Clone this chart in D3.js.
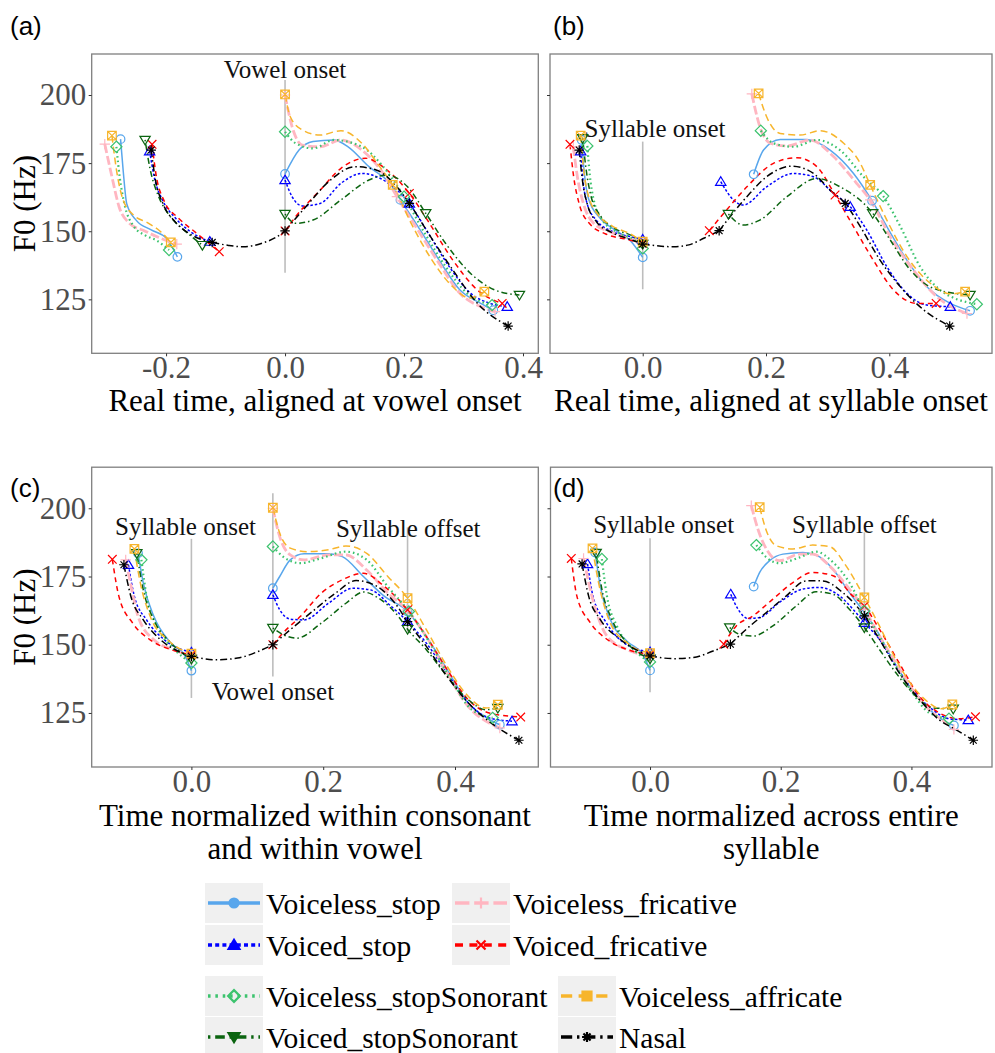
<!DOCTYPE html>
<html lang="en">
<head>
<meta charset="UTF-8">
<script src="https://d3js.org/d3.v7.min.js"></script>
<style>
  body { margin: 0; background: #fff; }
  svg { display: block; }
</style>
</head>
<body>
<script>
// categories in legend order
var categories = ["Voiceless_stop", "Voiced_stop", "Voiceless_fricative", "Voiced_fricative",
  "Voiceless_stopSonorant", "Voiced_stopSonorant", "Voiceless_affricate", "Nasal"];

var yTicks = [125, 150, 175, 200];
var xTicksA = [-0.2, 0.0, 0.2, 0.4];
var xTicksB = [0.0, 0.2, 0.4];

// F0 contours, one array per panel. pre = before syllable onset, cons = nasal consonant,
// vow = from vowel onset; a third value of 1 marks the syllable offset point
var curvesA = [
  { cat: "Voiceless_stop",
    pre: [[-0.2765,183.8],[-0.272,172],[-0.266,160],[-0.25,154],[-0.225,150.5],[-0.2,147.5],[-0.181,140.6]],
    vow: [[0,171],[0.0235,179.8],[0.047,182.9],[0.082,183.5],[0.106,181],[0.141,173.7],[0.176,167.6],[0.194,161.5,1],[0.2235,151.7],[0.259,139.4],[0.294,128.4],[0.329,123.5],[0.35,121]] },
  { cat: "Voiced_stop",
    pre: [[-0.2276,179.4],[-0.22,170],[-0.205,161],[-0.185,155],[-0.16,150],[-0.1265,146.2]],
    vow: [[0,168.8],[0.0118,162.7],[0.029,159.3],[0.059,160.2],[0.094,167.6],[0.129,171.2],[0.165,168.8],[0.209,160.2,1],[0.241,149.2],[0.276,137],[0.312,127.2],[0.345,123.5],[0.3735,122.3]] },
  { cat: "Voiceless_fricative",
    pre: [[-0.303,182],[-0.291,170],[-0.279,159],[-0.262,153],[-0.235,150],[-0.21,147.5],[-0.182,145.3]],
    vow: [[0,200],[0.0118,188.4],[0.029,181.6],[0.059,181],[0.094,183.5],[0.129,179.8],[0.165,171.2],[0.188,162.7,1],[0.2235,150.4],[0.259,138.2],[0.294,127.2],[0.329,122.3],[0.353,120.5]] },
  { cat: "Voiced_fricative",
    pre: [[-0.2235,181.9],[-0.217,171],[-0.203,161],[-0.18,155],[-0.15,149.5],[-0.1106,142.5]],
    vow: [[0,150.1],[0.0176,155.3],[0.059,165.1],[0.094,173.1],[0.135,176.8],[0.171,172.5],[0.209,163.9,1],[0.241,153.5],[0.282,139.4],[0.3235,128.4],[0.365,123.5]] },
  { cat: "Voiceless_stopSonorant",
    pre: [[-0.2835,181],[-0.278,170],[-0.27,160],[-0.255,152],[-0.235,148.5],[-0.215,146.5],[-0.195,143.1]],
    vow: [[0,186.5],[0.0176,182.3],[0.047,180.4],[0.082,183.5],[0.129,181],[0.165,173.7],[0.2,162.7,1],[0.235,149.2],[0.27,137],[0.306,127.2],[0.348,122.9]] },
  { cat: "Voiced_stopSonorant",
    pre: [[-0.2353,183.5],[-0.227,173],[-0.213,163],[-0.195,156],[-0.17,150.5],[-0.139,144.9]],
    vow: [[0,156.3],[0.0176,152.9],[0.047,154.1],[0.094,161.5],[0.141,168.8],[0.171,170.6],[0.206,166.3],[0.2365,156.6,1],[0.27,145.5],[0.312,134.5],[0.353,128.4],[0.394,126.6]] },
  { cat: "Voiceless_affricate",
    pre: [[-0.291,185.1],[-0.283,172],[-0.273,162],[-0.255,156],[-0.23,153],[-0.21,150],[-0.192,145.9]],
    vow: [[0,200.2],[0.0088,192],[0.029,187.2],[0.059,185.3],[0.094,186.9],[0.129,182.3],[0.159,173.7],[0.181,167,1],[0.212,152.9],[0.247,139.4],[0.282,129.6],[0.31,125.5],[0.335,127.8]] },
  { cat: "Nasal",
    pre: [[-0.225,179.8],[-0.218,169],[-0.205,160],[-0.185,153.5],[-0.16,149],[-0.1224,145.9]],
    cons: [[-0.1224,145.9],[-0.095,144.8],[-0.07,144.3],[-0.04,145.5],[-0.015,147.8],[0,150.1]],
    vow: [[0,150.1],[0.035,159],[0.0765,168.8],[0.1176,173.7],[0.153,172.5],[0.188,166.3],[0.209,160.2,1],[0.241,149.2],[0.282,135.8],[0.3235,123.5],[0.375,115.2]] }
];

var curvesB = [
  { cat: "Voiceless_stop",
    pre: [[-0.099,183.5],[-0.095,172],[-0.088,162],[-0.07,155],[-0.045,150.5],[-0.02,146.5],[0,140.4]],
    vow: [[0.18,170.9],[0.196,179.8],[0.223,183.7],[0.266,183.7],[0.304,179.8],[0.342,171.2],[0.372,161.2,1],[0.396,151.7],[0.4286,139.4],[0.461,129.6],[0.499,123.5],[0.531,120.8]] },
  { cat: "Voiced_stop",
    pre: [[-0.1006,179.4],[-0.097,169],[-0.09,160],[-0.075,154],[-0.05,150],[-0.02,148],[0,147]],
    vow: [[0.1266,168.2],[0.147,161.5],[0.163,159.6],[0.201,166.3],[0.2446,171.2],[0.277,170],[0.3095,163.9],[0.3366,159,1],[0.3636,150.4],[0.396,137],[0.4286,127.2],[0.461,122.9],[0.499,122.3]] },
  { cat: "Voiceless_fricative",
    pre: [[-0.1126,181],[-0.106,170],[-0.096,160],[-0.08,153],[-0.055,150],[-0.025,147.5],[0,145.8]],
    vow: [[0.177,200.4],[0.19,188.4],[0.207,182.3],[0.234,181.3],[0.2716,183.5],[0.3095,177.4],[0.347,167.6],[0.369,161.5,1],[0.4015,148],[0.439,135.8],[0.477,126],[0.526,119.8]] },
  { cat: "Voiced_fricative",
    pre: [[-0.118,181.9],[-0.112,170],[-0.103,160],[-0.087,153],[-0.06,149],[-0.025,147],[0,145.5]],
    vow: [[0.108,150.2],[0.136,157.8],[0.169,166.3],[0.212,174.9],[0.25,177],[0.2825,173.7],[0.312,163.3,1],[0.342,151.7],[0.374,139.4],[0.407,128.4],[0.445,123.5],[0.476,123.5]] },
  { cat: "Voiceless_stopSonorant",
    pre: [[-0.0898,181.3],[-0.086,171],[-0.079,161],[-0.065,154],[-0.04,149.5],[-0.015,147],[0,143.7]],
    vow: [[0.1916,186.9],[0.212,182.3],[0.2446,181],[0.2825,183.5],[0.32,179.8],[0.358,170],[0.39,162.9,1],[0.418,151.7],[0.45,137],[0.4827,128.4],[0.542,123.2]] },
  { cat: "Voiced_stopSonorant",
    pre: [[-0.0974,184.1],[-0.092,173],[-0.084,163],[-0.068,155.5],[-0.045,151],[-0.015,148],[0,145.3]],
    vow: [[0.139,156.3],[0.163,152.3],[0.19,154.1],[0.234,162.7],[0.2825,169.4],[0.32,166.3],[0.373,156.6,1],[0.4015,146.8],[0.434,135.8],[0.472,129],[0.531,126.6]] },
  { cat: "Voiceless_affricate",
    pre: [[-0.1006,185.1],[-0.096,173],[-0.088,163],[-0.072,156],[-0.05,152],[-0.02,149],[0,146.2]],
    vow: [[0.188,200.6],[0.201,192],[0.223,185.9],[0.2554,185.3],[0.288,186.9],[0.326,182.3],[0.353,174.9],[0.369,167,1],[0.396,154.1],[0.4286,140.7],[0.4665,130.9],[0.5,127],[0.523,127.8]] },
  { cat: "Nasal",
    pre: [[-0.103,179.8],[-0.098,169],[-0.09,160],[-0.075,153.5],[-0.05,149.5],[-0.02,147],[0,145.3]],
    cons: [[0,145.3],[0.03,144.5],[0.05,144.3],[0.075,145],[0.1,147.5],[0.124,150.2]],
    vow: [[0.124,150.2],[0.169,162.7],[0.201,170],[0.242,173.9],[0.277,171.2],[0.304,165.1],[0.3285,160.2,1],[0.353,151.7],[0.385,139.4],[0.418,129.6],[0.456,121.1],[0.498,115.2]] }
];

var curvesC = [
  { cat: "Voiceless_stop",
    pre: [[-0.081,183.5],[-0.073,172.6],[-0.057,160.4],[-0.031,150.6],[-0.01,146],[0,140.5]],
    vow: [[0.1236,170.7],[0.134,175],[0.15,181.1],[0.171,183.3],[0.208,183.3],[0.229,182.3],[0.261,175],[0.293,167.7],[0.328,162.2,1],[0.3565,153],[0.388,140.9],[0.42,128.7],[0.452,122.6],[0.468,120.7]] },
  { cat: "Voiced_stop",
    pre: [[-0.0955,179.3],[-0.0865,167.7],[-0.068,159.1],[-0.041,151.8],[0,147.2]],
    vow: [[0.1236,168.3],[0.134,162.8],[0.15,159.4],[0.171,159.1],[0.208,165.2],[0.245,170.7],[0.2716,170.1],[0.3034,164],[0.328,158.5,1],[0.3565,150.6],[0.388,139.6],[0.42,128.7],[0.452,123.2],[0.4865,122]] },
  { cat: "Voiceless_fricative",
    pre: [[-0.0997,181.1],[-0.092,172],[-0.081,160.4],[-0.057,151.8],[-0.025,148],[0,145.7]],
    vow: [[0.1236,200],[0.134,189.6],[0.15,182.9],[0.171,181.1],[0.208,182.9],[0.234,182.9],[0.266,177.4],[0.298,168.9],[0.327,162.8,1],[0.3565,153],[0.388,139.6],[0.42,127.4],[0.452,121.3],[0.468,119.5]] },
  { cat: "Voiced_fricative",
    pre: [[-0.12,181.3],[-0.11,167.7],[-0.089,157.9],[-0.0626,151.8],[-0.031,148.2],[0,146.3]],
    vow: [[0.1236,150],[0.139,154.3],[0.1655,160.4],[0.197,168.9],[0.229,173.8],[0.261,176.2],[0.293,171.3],[0.328,162.8,1],[0.3565,153],[0.388,140.9],[0.42,129.9],[0.452,125],[0.4997,123.5]] },
  { cat: "Voiceless_stopSonorant",
    pre: [[-0.0759,181.1],[-0.068,167.7],[-0.052,156.7],[-0.0255,148.2],[0,143.3]],
    vow: [[0.1236,186],[0.139,182.3],[0.1655,179.9],[0.197,181.7],[0.2345,184.1],[0.266,181.1],[0.298,171.3],[0.33,162.2,1],[0.362,150.6],[0.394,137.2],[0.4255,126.2],[0.457,123.2]] },
  { cat: "Voiced_stopSonorant",
    pre: [[-0.0828,183.5],[-0.073,170.1],[-0.057,159.1],[-0.031,150.6],[0,144.8]],
    vow: [[0.1236,156.1],[0.139,153.7],[0.16,152.4],[0.197,157.9],[0.2345,165.2],[0.261,169.3],[0.2875,166.5],[0.314,160.4],[0.328,155.7,1],[0.3565,148.2],[0.388,138.4],[0.42,129.9],[0.447,126.2],[0.465,126.8]] },
  { cat: "Voiceless_affricate",
    pre: [[-0.0865,185.1],[-0.0785,173.8],[-0.0626,160.4],[-0.036,151.8],[0,146.7]],
    vow: [[0.1236,200.2],[0.134,190.9],[0.15,185.4],[0.176,184.1],[0.208,184.8],[0.2345,186.2],[0.266,183.5],[0.298,175],[0.328,167.1,1],[0.3565,155.5],[0.388,142.1],[0.42,131.1],[0.447,126.8],[0.465,128]] },
  { cat: "Nasal",
    pre: [[-0.1024,179.3],[-0.0918,167.7],[-0.073,159.1],[-0.0467,151.8],[-0.02,147.6],[0,145.7]],
    cons: [[0,145.7],[0.038,144.5],[0.07,145.1],[0.102,147.6],[0.1236,150]],
    vow: [[0.1236,150],[0.15,155.5],[0.1867,162.8],[0.2186,168.9],[0.25,173.5],[0.282,171.3],[0.309,165.2],[0.328,158.5,1],[0.3565,149.4],[0.388,138.4],[0.42,128.7],[0.462,120.1],[0.497,115]] }
];

var curvesD = [
  { cat: "Voiceless_stop",
    pre: [[-0.084,183.8],[-0.0763,171.6],[-0.061,159.3],[-0.0356,151.4],[-0.01,146],[0,140.6]],
    vow: [[0.1586,171.3],[0.1678,176.5],[0.183,180.8],[0.2034,183.2],[0.234,183.8],[0.254,182.9],[0.28,177.7],[0.305,169.1],[0.328,161.8,1],[0.3457,155.7],[0.371,144.7],[0.3966,134.9],[0.422,127.5],[0.447,122.6],[0.465,120.4]] },
  { cat: "Voiced_stop",
    pre: [[-0.0956,179.6],[-0.0874,167.9],[-0.0686,158.7],[-0.0407,150.8],[0,147.3]],
    vow: [[0.1235,168.5],[0.1347,163],[0.15,159.6],[0.1678,160],[0.198,165.5],[0.234,170.4],[0.259,171],[0.29,167.9],[0.315,161.8],[0.328,158.1,1],[0.351,152],[0.376,142.2],[0.4016,133.6],[0.432,126.3],[0.4575,122.9],[0.487,122.4]] },
  { cat: "Voiceless_fricative",
    pre: [[-0.1017,181.6],[-0.0864,165.5],[-0.066,153.2],[-0.0356,148.3],[0,145.9]],
    vow: [[0.155,201],[0.165,192.4],[0.178,185.1],[0.198,180.8],[0.229,183.2],[0.249,183.2],[0.2745,178.9],[0.305,170.4],[0.328,163,1],[0.351,153.2],[0.376,143.4],[0.4016,133.6],[0.427,126.3],[0.4525,121.4],[0.465,119]] },
  { cat: "Voiced_fricative",
    pre: [[-0.1205,181.6],[-0.112,167.9],[-0.0915,158.1],[-0.066,152],[-0.0356,148.3],[0,146.5]],
    vow: [[0.1129,150.2],[0.132,156.9],[0.1576,160.6],[0.188,166.7],[0.2186,172.8],[0.249,176.5],[0.28,175.3],[0.31,167.9],[0.328,164.2,1],[0.351,155.7],[0.381,143.4],[0.412,131.2],[0.442,125.1],[0.473,122.9],[0.498,123.6]] },
  { cat: "Voiceless_stopSonorant",
    pre: [[-0.0737,181.4],[-0.066,167.9],[-0.0508,156.9],[-0.0254,148.3],[0,143.7]],
    vow: [[0.1627,186.5],[0.178,182],[0.198,179.9],[0.229,182],[0.254,184.1],[0.28,180.2],[0.305,172.8],[0.328,162.4,1],[0.351,153.2],[0.376,142.2],[0.4016,132.4],[0.427,125.1],[0.4575,122.9]] },
  { cat: "Voiced_stopSonorant",
    pre: [[-0.0824,183.6],[-0.0737,170.4],[-0.0585,159.3],[-0.0356,150.8],[0,144.9]],
    vow: [[0.122,156.3],[0.137,153.8],[0.1576,153.2],[0.188,156.9],[0.2237,164.2],[0.254,169.4],[0.28,168.5],[0.305,163],[0.328,156.3,1],[0.351,148.3],[0.376,139.8],[0.4016,132.4],[0.432,126.9],[0.464,126.5]] },
  { cat: "Voiceless_affricate",
    pre: [[-0.088,185.3],[-0.0788,172.8],[-0.061,158.1],[-0.0356,150.8],[0,146.9]],
    vow: [[0.1678,200.4],[0.178,191.8],[0.193,186.3],[0.2186,185.1],[0.249,186.5],[0.2745,186],[0.3,178.9],[0.328,167.3,1],[0.351,156.9],[0.376,144.7],[0.4016,134.9],[0.427,128.7],[0.445,126.5],[0.4626,128.1]] },
  { cat: "Nasal",
    pre: [[-0.104,179.6],[-0.094,167.9],[-0.0763,159.3],[-0.0458,152],[0,145.9]],
    cons: [[0,145.9],[0.0356,144.9],[0.066,145.3],[0.0966,147.7],[0.123,150.2]],
    vow: [[0.123,150.2],[0.1474,155.7],[0.178,161.8],[0.2085,167.9],[0.239,173.4],[0.264,173.4],[0.295,169.1],[0.328,160.6,1],[0.351,152],[0.381,139.8],[0.412,130],[0.442,122.6],[0.468,118.9],[0.4947,115]] }
];

// reference lines [time, F0 from, F0 to] and their labels [text, time, F0]
var guidesA = [[0, 134.8, 205.5]];
var notesA = [["Vowel onset", 0, 206.1]];
var guidesB = [[0, 128.7, 182.9]];
var notesB = [["Syllable onset", 0.02, 184.7]];
var guidesC = [[0, 130.5, 188.8], [0.1236, 138.4, 205.5], [0.328, 154.6, 193]];
var notesC = [["Syllable onset", -0.009, 190.2], ["Syllable offset", 0.329, 189.6], ["Vowel onset", 0.1236, 129.9]];
var guidesD = [[0, 132.6, 189], [0.328, 154.9, 191.2]];
var notesD = [["Syllable onset", 0.0208, 190.9], ["Syllable offset", 0.328, 190.9]];

// styles per category
var colors = ["#58a6ec", "#0000ff", "#ffb6c1", "#ff0000", "#3cc36e", "#0b6410", "#f7b52c", "#000000"];
var dashes = [null, "2.5,2", "9,3", "5,4", "1.6,3", "1.5,3,6,3", "7,4", "7,3,1.5,3"];
var widths = [1.5, 1.5, 2.8, 1.5, 2.2, 1.5, 1.5, 1.5];
var shapes = ["circle", "triangle", "plus", "cross", "diamond", "triangleDown", "squareCross", "asterisk"];

var serif = "'Liberation Serif', 'Times New Roman', serif";
var sans = "'Liberation Sans', Arial, sans-serif";

var yDomain = [105.2, 215.05];

var panels = [
  { label: "(a)", lx: 10, ly: 35, curves: curvesA, guides: guidesA, notes: notesA,
    left: 91.7, right: 538.3, top: 54, bottom: 353.3, xdom: [-0.325, 0.4257], xticks: xTicksA,
    ylab: true, title: ["Real time, aligned at vowel onset"] },
  { label: "(b)", lx: 553, ly: 35, curves: curvesB, guides: guidesB, notes: notesB,
    left: 550, right: 992, top: 54, bottom: 353.3, xdom: [-0.1504, 0.5666], xticks: xTicksB,
    ylab: false, title: ["Real time, aligned at syllable onset"] },
  { label: "(c)", lx: 10, ly: 497, curves: curvesC, guides: guidesC, notes: notesC,
    left: 91.7, right: 538.3, top: 467.2, bottom: 767, xdom: [-0.1513, 0.5264], xticks: xTicksB,
    ylab: true, title: ["Time normalized within consonant", "and within vowel"] },
  { label: "(d)", lx: 553, ly: 497, curves: curvesD, guides: guidesD, notes: notesD,
    left: 550.5, right: 992, top: 467.2, bottom: 767, xdom: [-0.1523, 0.5233], xticks: xTicksB,
    ylab: false, title: ["Time normalized across entire", "syllable"] }
];

var svg = d3.select("body").append("svg")
  .attr("width", 995)
  .attr("height", 1053);

// draw one point symbol, s is about half the width
function marker(g, shape, cx, cy, color, s, filled, sw) {
  var p = d3.path();
  if (shape === "circle") {
    p.arc(cx, cy, s, 0, 2 * Math.PI);
  } else if (shape === "triangle") {
    p.moveTo(cx, cy - s * 1.15); p.lineTo(cx + s * 1.2, cy + s * 0.85); p.lineTo(cx - s * 1.2, cy + s * 0.85); p.closePath();
  } else if (shape === "triangleDown") {
    p.moveTo(cx, cy + s * 1.15); p.lineTo(cx + s * 1.2, cy - s * 0.85); p.lineTo(cx - s * 1.2, cy - s * 0.85); p.closePath();
  } else if (shape === "plus") {
    p.moveTo(cx - s * 1.2, cy); p.lineTo(cx + s * 1.2, cy); p.moveTo(cx, cy - s * 1.2); p.lineTo(cx, cy + s * 1.2);
  } else if (shape === "cross") {
    p.moveTo(cx - s, cy - s); p.lineTo(cx + s, cy + s); p.moveTo(cx + s, cy - s); p.lineTo(cx - s, cy + s);
  } else if (shape === "diamond") {
    p.moveTo(cx, cy - s * 1.3); p.lineTo(cx + s * 1.3, cy); p.lineTo(cx, cy + s * 1.3); p.lineTo(cx - s * 1.3, cy); p.closePath();
  } else if (shape === "squareCross") {
    p.rect(cx - s, cy - s, 2 * s, 2 * s);
    if (!filled) { p.moveTo(cx - s, cy - s); p.lineTo(cx + s, cy + s); p.moveTo(cx + s, cy - s); p.lineTo(cx - s, cy + s); }
  } else if (shape === "asterisk") {
    var r = s * 1.1, q = r * 0.72;
    p.moveTo(cx - r, cy); p.lineTo(cx + r, cy); p.moveTo(cx, cy - r); p.lineTo(cx, cy + r);
    p.moveTo(cx - q, cy - q); p.lineTo(cx + q, cy + q); p.moveTo(cx + q, cy - q); p.lineTo(cx - q, cy + q);
  }
  var open = ["plus", "cross", "asterisk"].indexOf(shape) >= 0;
  g.append("path")
    .attr("d", p.toString())
    .attr("fill", filled && !open && shape !== "diamond" ? color : "none")
    .attr("stroke", color)
    .attr("stroke-width", sw);
}

panels.forEach(function (p) {
  var x = d3.scaleLinear().domain(p.xdom).range([p.left, p.right]);
  var y = d3.scaleLinear().domain(yDomain).range([p.bottom, p.top]);
  var g = svg.append("g");

  // gray reference lines
  g.selectAll(".guide")
    .data(p.guides)
    .join("line")
    .attr("x1", function (d) { return x(d[0]); })
    .attr("x2", function (d) { return x(d[0]); })
    .attr("y1", function (d) { return y(d[1]); })
    .attr("y2", function (d) { return y(d[2]); })
    .attr("stroke", "#bdbdbd")
    .attr("stroke-width", 1.6);

  g.selectAll(".note")
    .data(p.notes)
    .join("text")
    .attr("x", function (d) { return x(d[1]); })
    .attr("y", function (d) { return y(d[2]); })
    .attr("text-anchor", "middle")
    .style("font-family", serif)
    .style("font-size", "25px")
    .attr("fill", "#111")
    .text(function (d) { return d[0]; });

  var line = d3.line()
    .x(function (d) { return x(d[0]); })
    .y(function (d) { return y(d[1]); })
    .curve(d3.curveMonotoneX);

  // contour lines
  p.curves.forEach(function (c) {
    var i = categories.indexOf(c.cat);
    [c.pre, c.cons, c.vow].forEach(function (seg) {
      if (!seg) return;
      g.append("path")
        .attr("d", line(seg))
        .attr("fill", "none")
        .attr("stroke", colors[i])
        .attr("stroke-width", widths[i])
        .attr("stroke-dasharray", dashes[i]);
    });
  });

  // point symbols at segment ends and syllable offset
  p.curves.forEach(function (c) {
    var i = categories.indexOf(c.cat);
    var pts = [c.pre[0], c.pre[c.pre.length - 1], c.vow[0], c.vow[c.vow.length - 1]];
    c.vow.forEach(function (d) { if (d[2] === 1) pts.push(d); });
    pts.forEach(function (d) {
      marker(g, shapes[i], x(d[0]), y(d[1]), colors[i], 4.3, false, 1.2);
    });
  });

  // panel border
  g.append("rect")
    .attr("x", p.left).attr("y", p.top)
    .attr("width", p.right - p.left).attr("height", p.bottom - p.top)
    .attr("fill", "none")
    .attr("stroke", "#7f7f7f")
    .attr("stroke-width", 1.3);

  // x axis
  var xa = g.append("g")
    .attr("transform", "translate(0," + p.bottom + ")")
    .call(d3.axisBottom(x).tickValues(p.xticks).tickSize(3).tickFormat(function (d) { return d.toFixed(1); }));
  xa.select(".domain").remove();
  xa.selectAll(".tick line").attr("stroke", "#333");
  xa.selectAll("text")
    .attr("y", 24.5).attr("dy", null)
    .style("font-family", serif)
    .style("font-size", "31px")
    .attr("fill", "#4d4d4d");

  // y axis
  var ya = g.append("g")
    .attr("transform", "translate(" + p.left + ",0)")
    .call(d3.axisLeft(y).tickValues(yTicks).tickSize(3).tickPadding(2.5));
  ya.select(".domain").remove();
  ya.selectAll(".tick line").attr("stroke", "#333");
  if (p.ylab) {
    ya.selectAll("text")
      .style("font-family", serif)
      .style("font-size", "31px")
      .attr("fill", "#4d4d4d");
  } else {
    ya.selectAll("text").remove();
  }

  if (p.ylab) {
    g.append("text")
      .attr("transform", "translate(35," + ((p.top + p.bottom) / 2) + ") rotate(-90)")
      .attr("text-anchor", "middle")
      .style("font-family", serif)
      .style("font-size", "31px")
      .text("F0 (Hz)");
  }

  // x title
  p.title.forEach(function (t, k) {
    g.append("text")
      .attr("x", (p.left + p.right) / 2)
      .attr("y", p.bottom + (p.title.length > 1 ? 59 : 57.5) + k * 33)
      .attr("text-anchor", "middle")
      .style("font-family", serif)
      .style("font-size", "31px")
      .text(t);
  });

  svg.append("text")
    .attr("x", p.lx).attr("y", p.ly)
    .style("font-family", sans)
    .style("font-size", "26px")
    .text(p.label);
});

// legend: two blocks of 2 x 2 keys
var legendRows = [
  { cats: ["Voiceless_stop", "Voiceless_fricative"], cy: 903, cols: [205, 452] },
  { cats: ["Voiced_stop", "Voiced_fricative"], cy: 945, cols: [205, 452] },
  { cats: ["Voiceless_stopSonorant", "Voiceless_affricate"], cy: 996, cols: [205, 558] },
  { cats: ["Voiced_stopSonorant", "Nasal"], cy: 1037, cols: [205, 558] }
];
var lg = svg.append("g");
legendRows.forEach(function (row) {
  row.cats.forEach(function (cat, k) {
    var i = categories.indexOf(cat);
    var kx = row.cols[k];
    lg.append("rect")
      .attr("x", kx).attr("y", row.cy - 20)
      .attr("width", 58).attr("height", 40)
      .attr("fill", "#f0f0f0");
    lg.append("line")
      .attr("x1", kx + 3).attr("x2", kx + 55)
      .attr("y1", row.cy).attr("y2", row.cy)
      .attr("stroke", colors[i])
      .attr("stroke-width", 3.5)
      .attr("stroke-dasharray", dashes[i] ? dashes[i].split(",").map(function (v) { return v * 1.6; }).join(",") : null);
    marker(lg, shapes[i], kx + 29, row.cy, colors[i], 4.5, true, 2.2);
    lg.append("text")
      .attr("x", kx + 61).attr("y", row.cy + 11)
      .style("font-family", serif)
      .style("font-size", "29.5px")
      .text(cat);
  });
});
</script>
</body>
</html>
